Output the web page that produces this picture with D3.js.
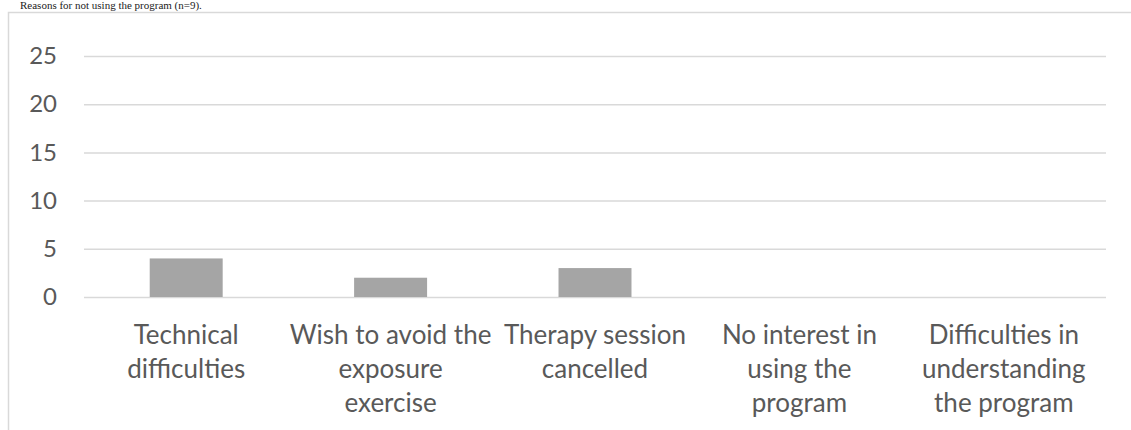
<!DOCTYPE html>
<html>
<head>
<meta charset="utf-8">
<script src="https://cdn.jsdelivr.net/npm/d3@7"></script>
<style>
  html, body { margin: 0; padding: 0; background: #fff; }
  svg { display: block; }
</style>
</head>
<body>
<svg id="chart" width="1131" height="430"></svg>
<script>
// Reasons for not using the program, counts per category
const categories = [
  ["Technical", "difficulties"],
  ["Wish to avoid the", "exposure", "exercise"],
  ["Therapy session", "cancelled"],
  ["No interest in", "using the", "program"],
  ["Difficulties in", "understanding", "the program"]
];
const counts = [4, 2, 3, 0, 0];
const yTicks = [0, 5, 10, 15, 20, 25];
const caption = "Reasons for not using the program (n=9).";

const svg = d3.select("#chart");
const W = 1131, H = 430;
const plot = { left: 84, right: 1106, top: 56, bottom: 297 };
const labelFont = "Lato, 'Open Sans', sans-serif";
const tickSize = 24;
const labelSize = 26;

// Caption above the frame
svg.append("text")
  .attr("x", 20).attr("y", 9)
  .attr("font-family", "'Liberation Serif', 'Times New Roman', serif")
  .attr("font-size", 11)
  .attr("fill", "#222")
  .text(caption);

// Chart frame
svg.append("path")
  .attr("d", `M8.5,${H} V12.5 H${W}`)
  .attr("fill", "none")
  .attr("stroke", "#d9d9d9")
  .attr("stroke-width", 1.5);

const x = d3.scaleBand()
  .domain(d3.range(categories.length))
  .range([plot.left, plot.right])
  .paddingInner(0.643)
  .paddingOuter(0.3215);

const y = d3.scaleLinear().domain([0, 25]).range([plot.bottom, plot.top]);

// Gridlines and y tick labels
const yAxis = d3.axisLeft(y).tickValues(yTicks)
  .tickSize(-(plot.right - plot.left)).tickPadding(27);
const gy = svg.append("g").attr("transform", `translate(${plot.left},0)`).call(yAxis);
gy.select(".domain").remove();
gy.selectAll(".tick line").attr("stroke", "#d9d9d9").attr("stroke-width", 1.5);
gy.selectAll(".tick text")
  .attr("fill", "#595959")
  .attr("font-family", labelFont)
  .attr("font-size", tickSize);

// Bars
svg.append("g").selectAll("rect")
  .data(counts)
  .join("rect")
  .attr("x", (d, i) => x(i))
  .attr("width", x.bandwidth())
  .attr("y", d => y(d))
  .attr("height", d => y(0) - y(d))
  .attr("fill", "#a5a5a5");

// Category labels
const gx = svg.append("g");
categories.forEach((lines, i) => {
  const cx = x(i) + x.bandwidth() / 2;
  const t = gx.append("text")
    .attr("x", cx)
    .attr("y", 344)
    .attr("text-anchor", "middle")
    .attr("fill", "#595959")
    .attr("font-family", labelFont)
    .attr("font-size", labelSize);
  lines.forEach((s, k) => {
    t.append("tspan")
      .attr("x", cx)
      .attr("dy", k === 0 ? 0 : 34)
      .text(s);
  });
});
</script>
</body>
</html>
